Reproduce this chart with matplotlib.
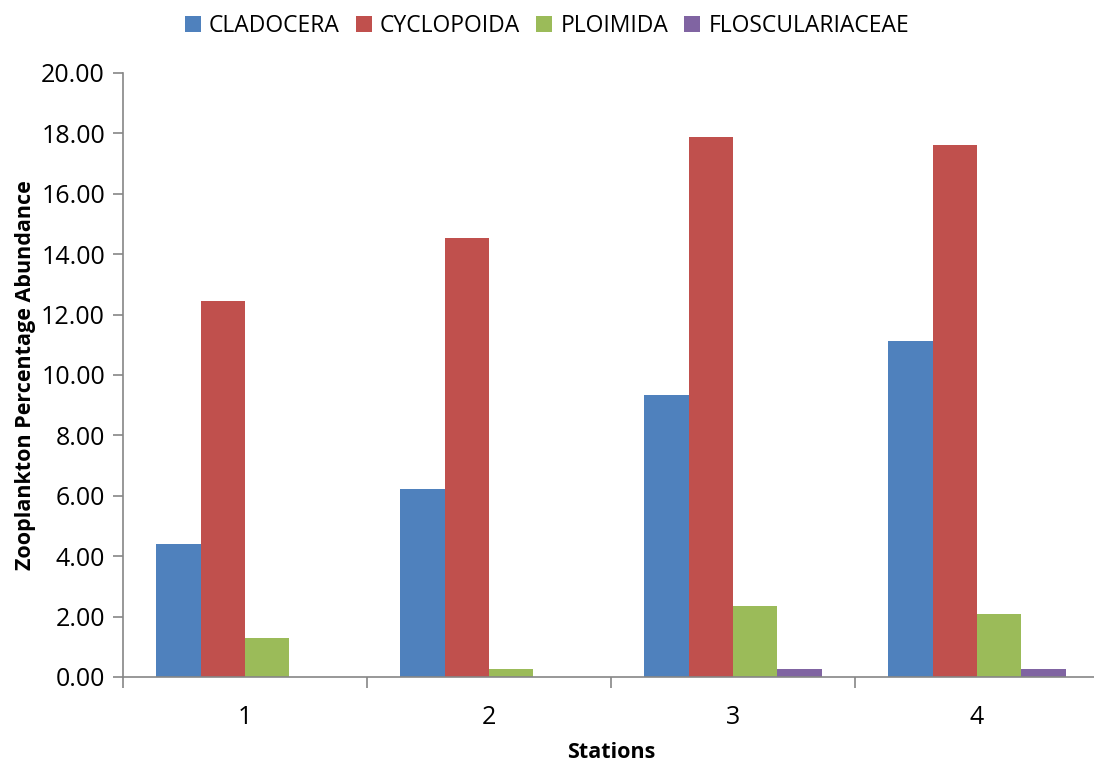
import numpy as np
import matplotlib
matplotlib.use("Agg")
from matplotlib import pyplot as plt

plt.rcParams['font.family'] = ['Open Sans', 'DejaVu Sans']

# stations and percentage abundance per group
stations = ['1', '2', '3', '4']
cladocera = [4.40, 6.23, 9.34, 11.13]
cyclopoida = [12.45, 14.54, 17.88, 17.62]
ploimida = [1.30, 0.26, 2.35, 2.09]
floscularia = [0.00, 0.00, 0.26, 0.26]

series = [('CLADOCERA', cladocera, '#4F81BD'),
          ('CYCLOPOIDA', cyclopoida, '#C0504D'),
          ('PLOIMIDA', ploimida, '#9BBB59'),
          ('FLOSCULARIACEAE', floscularia, '#8064A2')]

fig = plt.figure(figsize=(10.94, 7.68), dpi=100)
ax = fig.add_axes([123/1094, 1-677/768, (1099-123)/1094, (677-73)/768])

x = np.arange(1, len(stations)+1)
w = 0.182
for i, (name, vals, col) in enumerate(series):
    ax.bar(x + (i-1.5)*w, vals, w, color=col, label=name, zorder=2)

ax.set_xlim(0.5, 4.5)
ax.set_ylim(0, 20)
ax.set_yticks(np.arange(0, 21, 2))
ax.set_yticklabels(['%.2f' % v for v in np.arange(0, 21, 2)], fontsize=18)
ax.set_xticks(x)
ax.set_xticklabels(stations, fontsize=18)
ax.set_xticks(np.arange(0.5, 4.6, 1), minor=True)
ax.tick_params(axis='x', which='major', length=0, pad=20)
ax.tick_params(axis='x', which='minor', length=8, color='#868686', width=1.2)
ax.tick_params(axis='y', length=7, color='#868686', width=1.2, pad=6)

for s in ['top', 'right']:
    ax.spines[s].set_visible(False)
for s in ['left', 'bottom']:
    ax.spines[s].set_color('#868686')
    ax.spines[s].set_linewidth(1.2)

ax.set_xlabel('Stations', fontsize=15.5, fontweight='bold', labelpad=9)
ax.set_ylabel('Zooplankton Percentage Abundance', fontsize=15.5, fontweight='bold', labelpad=4)

fig.legend(loc='upper center', bbox_to_anchor=(0.5, 1.008), ncol=4, frameon=False,
           fontsize=16.5, handlelength=0.7, handleheight=0.7, handletextpad=0.35,
           columnspacing=0.7)

fig.savefig('out.png', dpi=100)
